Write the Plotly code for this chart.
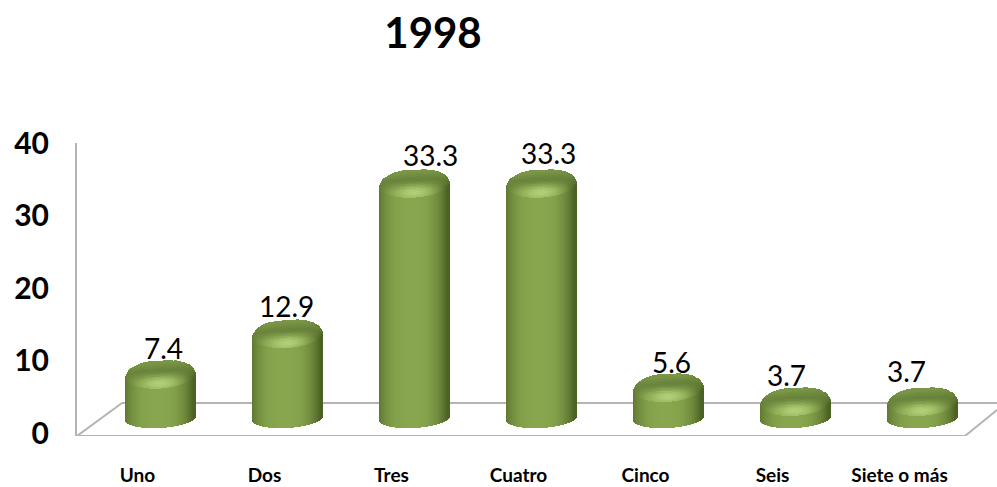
import math
import plotly.graph_objects as go

categories = ["Uno", "Dos", "Tres", "Cuatro", "Cinco", "Seis", "Siete o más"]
values = [7.4, 12.9, 33.3, 33.3, 5.6, 3.7, 3.7]
value_labels = ["7.4", "12.9", "33.3", "33.3", "5.6", "3.7", "3.7"]
y_ticks = [0, 10, 20, 30, 40]

W, H = 997, 487
L, R, T, B = 77, 997, 143, 436
PX_CAT = 127.0      # pixels per category
X0_PX = 161.0       # pixel of first category
HALF = 35           # half width of a cylinder, px
PX_UNIT = 7.37      # bar axis scale
ZERO_PX = 428.6     # bar axis zero pixel

xrange_ = [(L - X0_PX) / PX_CAT, (R - X0_PX) / PX_CAT]
y_scale = (433 - 143) / 40
yrange = [-(B - 433) / y_scale, 40]
y2range = [(ZERO_PX - B) / PX_UNIT, (ZERO_PX - T) / PX_UNIT]


def mix(a, b, f):
    f = max(0.0, min(1.0, f))
    return tuple(a[i] + (b[i] - a[i]) * f for i in range(3))


def css(c):
    return "rgb(%d,%d,%d)" % tuple(round(v) for v in c)


EDGE_L = (88, 112, 44)
MID = (136, 166, 78)
EDGE_R = (76, 98, 36)
HIGHLIGHT = (178, 207, 120)
CAP_DARK = (100, 126, 56)
CAP_LIGHT = (122, 150, 70)


def body_colour(t):
    if t < 0:
        return mix(MID, EDGE_L, abs(t + 0.05) ** 3.0)
    return mix(MID, EDGE_R, abs(t + 0.05) ** 2.8)


xs, bases, heights, colours = [], [], [], []
for i, v in enumerate(values):
    for dx in range(-HALF, HALF):
        t = (dx + 0.5) / HALF
        tilt = -2.0 * t
        bottom_px = (ZERO_PX - 418) - 10 * math.sqrt(max(0, 1 - t * t)) - tilt
        centre_px = v * PX_UNIT
        shoulder = (1 - abs(t) ** 2.4) ** (1 / 2.4)
        top_px = centre_px - 5 + 18 * shoulder - tilt
        rim_px = centre_px - 14 * math.sqrt(max(0, 1 - t * t)) - tilt
        rim_px = max(rim_px, bottom_px + 1)
        col = body_colour(t)
        xs.append(i + (dx + 0.5) / PX_CAT)
        bases.append(bottom_px / PX_UNIT)
        heights.append((rim_px - bottom_px) / PX_UNIT)
        colours.append(css(col))
        p = rim_px
        while p < top_px:
            q = min(p + 1.5, top_px)
            off = (p + q) / 2 - centre_px + tilt
            base_col = body_colour(t)
            up = max(0.0, min(1.0, (off + 6) / 10))
            surf = mix(CAP_DARK, CAP_LIGHT, max(0.0, (off - 3) / 9) + 0.25 * max(0.0, -t))
            c = mix(base_col, surf, up)
            glow = math.exp(-((t / 0.5) ** 2 + ((off + 9) / 6.5) ** 2))
            c = mix(c, HIGHLIGHT, glow)
            xs.append(i + (dx + 0.5) / PX_CAT)
            bases.append(p / PX_UNIT)
            heights.append((q - p + 0.4) / PX_UNIT)
            colours.append(css(c))
            p = q

fig = go.Figure()
fig.add_trace(go.Scatter(x=list(range(len(categories))), y=values, mode="none",
                         hoverinfo="skip", showlegend=False, xaxis="x", yaxis="y"))
fig.add_trace(go.Bar(x=xs, y=heights, base=bases, width=1.25 / PX_CAT,
                     marker=dict(color=colours, line=dict(width=0)),
                     hoverinfo="skip", showlegend=False, xaxis="x", yaxis="y2"))

GRID = "#b4b4b4"
def px_x(p): return (p - X0_PX) / PX_CAT
def px_y(p): return (433 - p) / y_scale

floor = [((77, 436), (122, 403)), ((122, 403), (997, 403)),
         ((77, 436), (965, 436)), ((965, 436), (997, 410))]
shapes = [dict(type="line", layer="below", xref="x", yref="y",
               x0=px_x(a[0]), y0=px_y(a[1]), x1=px_x(b[0]), y1=px_y(b[1]),
               line=dict(color=GRID, width=2)) for a, b in floor]

label_dx = [2, -2, 15, 6, 2, -10, -17]
label_dy = [26, 28, 28, 30, 25, 26, 30]
annotations = [dict(x=i, y=v, xref="x", yref="y2", text=s, showarrow=False,
                    xshift=label_dx[i], yshift=label_dy[i],
                    font=dict(family="Lato", size=28, color="black"))
               for i, (v, s) in enumerate(zip(values, value_labels))]

fig.update_layout(
    width=W, height=H, autosize=False,
    margin=dict(l=L, r=W - R, t=T, b=H - B, autoexpand=False),
    paper_bgcolor="white", plot_bgcolor="white",
    barmode="overlay", bargap=0,
    title=dict(text="<b>1998</b>", x=433 / W, xanchor="center", y=1 - 33 / H, yanchor="middle",
               font=dict(family="Lato", size=42, color="black")),
    xaxis=dict(range=xrange_, tickmode="array", automargin=False,
               tickvals=[i - 0.185 for i in range(len(categories))], ticktext=categories,
               showgrid=False, zeroline=False, showline=False, ticks="",
               ticklabelstandoff=26,
               tickfont=dict(family="Lato", size=19, color="black", weight="bold")),
    yaxis=dict(range=yrange, tickmode="array", tickvals=y_ticks, automargin=False,
               showgrid=False, zeroline=False, showline=True, linecolor=GRID, linewidth=2,
               ticks="", ticklabelstandoff=20,
               tickfont=dict(family="Lato", size=30, color="black", weight="bold")),
    yaxis2=dict(range=y2range, overlaying="y", visible=False),
    shapes=shapes, annotations=annotations,
)
fig.write_html("out.html", config=dict(displayModeBar=False),
               post_script="document.body.style.margin='0';document.documentElement.style.overflow='hidden';")
